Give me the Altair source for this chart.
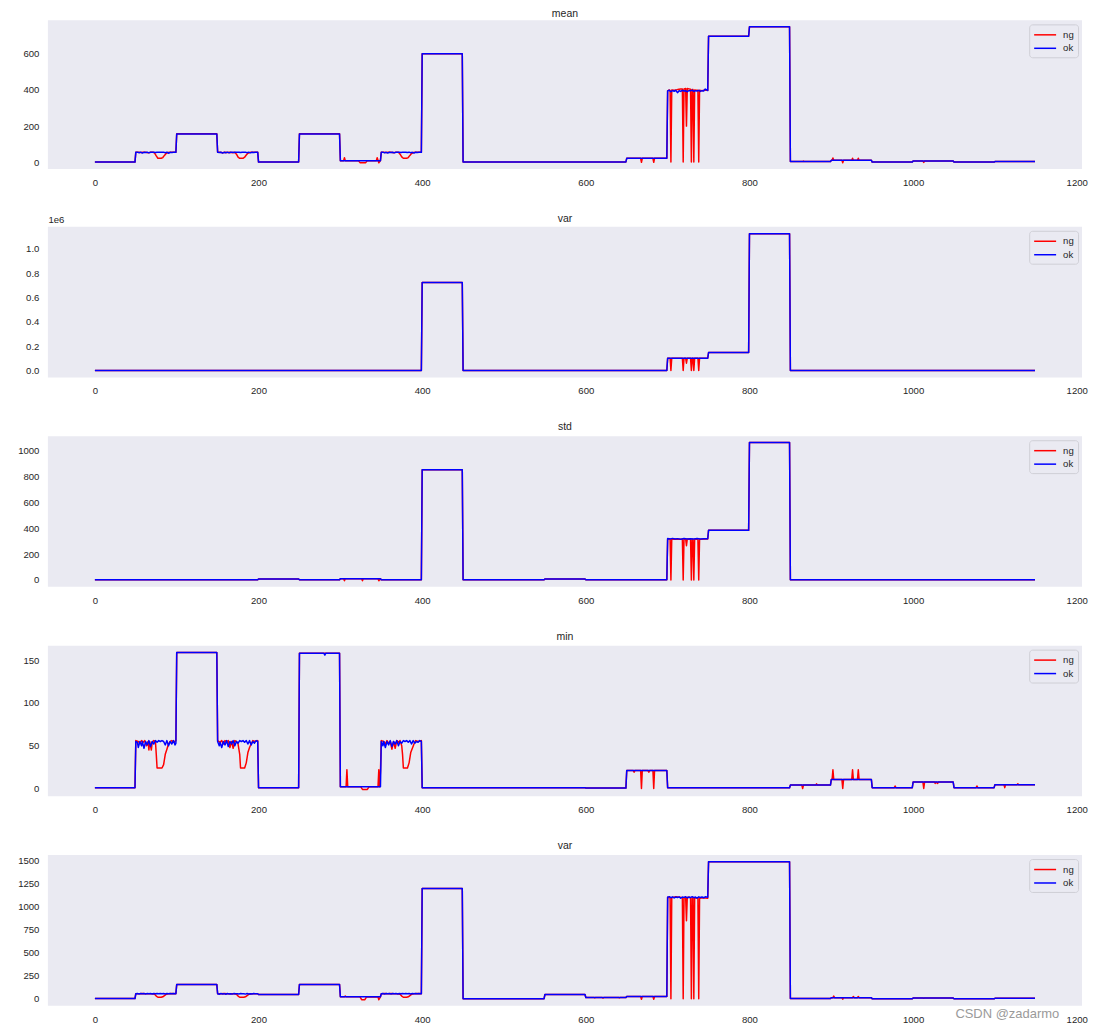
import altair as alt
import pandas as pd

# ---------------- data (vertices: [sample index, value]) -------------
X_TICKS = [0, 200, 400, 600, 800, 1000, 1200]
X_DOMAIN = [-57.45, 1206.45]
SERIES = ["ng", "ok"]
SERIES_COLORS = ["#ff0000", "#0000ff"]
TITLES = ["mean", "var", "std", "min", "var"]

MEAN_OK = [[0,1],[49,1],[50,55],[52,56],[54,53],[56,56],[58,51],[60,55],[62,54],[64,56],[66,52],[68,55],[70,55],[72,56],[74,54],[76,56],[78,55],[80,56],[82,55],[84,56],[86,53],[88,56],[90,50],[92,55],[94,54],[96,56],[99,55],
           [100,157],[149,157],
           [150,55],[152,54],[154,56],[156,51],[158,55],[160,53],[162,56],[164,52],[166,55],[168,56],[170,54],[172,56],[174,55],[176,56],[178,54],[180,56],[182,55],[184,56],[186,53],[188,56],[190,52],[192,55],[194,54],[196,56],[199,55],
           [200,1],[249,1],[250,157],[299,157],[300,9],[349,9],
           [350,55],[352,56],[354,52],[356,55],[358,51],[360,56],[362,54],[364,55],[366,52],[368,56],[370,55],[372,56],[374,54],[376,56],[378,55],[380,56],[382,54],[384,56],[386,53],[388,55],[390,51],[392,56],[394,54],[396,56],[399,55],
           [400,600],[449,600],[450,2],[649,2],[650,22],[699,22],
           [700,395],[702,398],[704,390],[706,397],[708,393],[710,398],[712,385],[714,396],[716,392],[718,398],[720,394],[722,396],[724,390],[726,397],[728,395],[730,399],[732,392],[734,396],[736,394],[738,398],[740,392],[742,396],[744,394],[746,405],[749,397],
           [750,697],[799,697],[800,750],[849,750],[850,4],[899,4],[900,11],[949,11],[950,1],[999,1],[1000,7],[1049,7],[1050,1],[1099,1],[1100,4],[1149,4]]
MEAN_NG = [[0,1],[49,1],[50,56],[53,55],[56,54],[59,56],[62,55],[65,52],[68,55],[71,56],[73,50],[75,35],[77,22],[81,22],[83,26],[85,38],[87,48],[89,54],[92,56],[95,55],[99,56],
           [100,158],[149,158],
           [150,56],[153,55],[156,53],[159,56],[162,54],[165,55],[168,53],[171,55],[173,45],[175,28],[177,22],[181,22],[183,28],[185,40],[187,50],[190,55],[194,56],[199,56],
           [200,1],[249,1],[250,158],[299,158],[300,9],[304,9],[305,25],[306,9],[322,9],[324,-2],[331,-2],[333,9],[344,9],[345,25],[347,-3],[349,9],
           [350,56],[353,55],[356,54],[359,56],[362,55],[365,53],[368,56],[371,55],[373,45],[375,30],[377,22],[381,22],[383,26],[385,38],[387,48],[389,54],[392,56],[396,55],[399,56],
           [400,600],[449,600],[450,2],[649,2],[650,22],[667,22],[668,0],[669,22],[682,22],[683,0],[684,22],[699,22],
           [700,395],[702,400],[703,398],[704,2],[705,400],[708,398],[712,402],[716,405],[718,405],[719,2],[720,406],[722,408],[723,200],[724,408],[726,406],[728,404],[729,2],[730,402],[731,402],[732,2],[733,400],[735,398],[737,398],[738,2],[739,398],[742,396],[746,400],[749,398],
           [750,697],[799,697],[800,750],[849,750],[850,4],[865,4],[866,7],[867,4],[899,4],[900,11],[901,11],[902,24],[903,11],[913,11],[914,-3],[915,11],[925,11],[926,22],[927,11],[932,11],[933,22],[934,11],[949,11],
           [950,1],[999,1],[1000,7],[1012,7],[1013,-1],[1014,7],[1049,7],[1050,1],[1099,1],[1100,4],[1149,4]]

VAR_OK = [[0,0],[399,0],[400,724000],[449,724000],[450,0],[699,0],[700,101000],[749,101000],[750,148000],[799,148000],[800,1125000],[849,1125000],[850,0],[1149,0]]
VAR_NG = [[0,0],[399,0],[400,724000],[449,724000],[450,0],[699,0],[700,101000],[703,101000],[704,0],[705,101000],[718,101000],[719,0],[720,101000],[722,101000],[723,60000],[724,101000],
          [728,101000],[729,0],[730,101000],[731,101000],[732,0],[733,101000],[737,101000],[738,0],[739,101000],[749,101000],
          [750,148000],[799,148000],[800,1125000],[849,1125000],[850,0],[1149,0]]

STD_OK = [[0,2],[199,2],[200,8],[249,8],[250,2],[299,2],[300,10],[349,10],[350,2],[399,2],[400,853],[449,853],[450,2],[549,2],[550,8],[599,8],[600,2],[699,2],
          [700,322],[703,318],[706,322],[709,317],[712,320],[716,316],[720,321],[724,318],[728,320],[732,317],[736,321],[740,318],[744,320],[749,319],
          [750,384],[799,384],[800,1064],[849,1064],[850,2],[1149,2]]
STD_NG = [[0,2],[199,2],[200,8],[249,8],[250,2],[299,2],[300,10],[304,10],[305,-6],[306,10],[326,10],[327,-6],[328,10],[346,10],[347,-6],[349,10],[350,2],[399,2],
          [400,853],[449,853],[450,2],[549,2],[550,8],[599,8],[600,2],[699,2],
          [700,318],[703,318],[704,0],[705,318],[718,316],[719,0],[720,316],[722,318],[723,265],[724,318],[728,316],[729,0],[730,316],[731,316],[732,0],[733,316],[737,316],[738,0],[739,316],[749,318],
          [750,384],[799,384],[800,1064],[849,1064],[850,2],[1149,2]]

MIN_OK = [[0,1],[49,1],[50,55],[52,54],[53,48],[55,55],[57,50],[58,55],[60,47],[62,55],[64,51],[66,56],[68,49],[70,55],[72,52],[74,56],[76,54],[78,56],[80,55],[82,56],[84,55],[86,51],[88,56],[90,50],[92,55],[94,52],[96,56],[98,51],[99,53],
          [100,159],[149,159],
          [150,55],[152,50],[153,54],[155,48],[157,55],[159,51],[161,56],[163,49],[165,55],[167,52],[169,56],[171,50],[173,55],[175,53],[177,56],[179,55],[181,56],[183,54],[185,56],[187,52],[189,56],[191,51],[193,55],[195,53],[197,56],[199,55],
          [200,1],[249,1],[250,158],[280,158],[281,156],[282,158],[299,158],[300,2],[349,2],
          [350,55],[352,50],[353,55],[355,48],[357,55],[359,51],[361,56],[363,49],[365,55],[367,52],[369,56],[371,50],[373,55],[375,53],[377,56],[379,55],[381,56],[383,54],[385,56],[387,52],[389,56],[391,53],[393,55],[395,54],[397,56],[399,55],
          [400,1],[599,1],[600,0.5],[649,0.5],[650,21],[699,21],[700,1],[849,1],[850,4],[899,4],[900,10.5],[949,10.5],[950,1],[999,1],[1000,7.5],[1049,7.5],[1050,1],[1099,1],[1100,4.5],[1149,4.5]]
MIN_NG = [[0,1],[49,1],[50,56],[53,55],[55,53],[57,56],[59,54],[61,56],[63,50],[65,55],[66,45],[67,55],[69,45],[70,54],[72,56],[74,55],[75,40],[76,24],[82,24],[84,28],[86,40],[88,46],[90,52],[92,55],[94,56],[96,54],[99,56],
          [100,159],[149,159],
          [150,56],[153,54],[155,56],[157,52],[159,56],[161,54],[163,56],[165,48],[167,55],[169,47],[171,56],[173,55],[175,52],[177,40],[178,24],[183,24],[185,30],[187,42],[189,48],[191,52],[193,56],[196,55],[199,56],
          [200,1],[249,1],[250,158],[299,158],[300,2],[307,2],[308,22],[309,2],[325,2],[327,-1],[333,-1],[335,2],[346,2],[347,22],[348,2],[349,20],
          [350,56],[353,55],[355,52],[357,56],[359,53],[361,55],[363,46],[365,55],[367,47],[369,56],[371,54],[373,56],[375,50],[376,40],[377,24],[382,24],[384,30],[386,42],[388,47],[390,52],[392,56],[395,55],[399,56],
          [400,1],[599,1],[600,0.5],[649,0.5],[650,21],[658,21],[659,19],[660,21],[667,21],[668,0],[669,21],[676,21],[677,19],[678,21],[682,21],[683,0],[684,21],[699,21],
          [700,1],[849,1],[850,4],[864,4],[865,0],[866,4],[881,4],[882,5.5],[883,4],[899,4],
          [900,10.5],[901,10.5],[902,22],[903,10.5],[913,10.5],[914,0],[915,10.5],[925,10.5],[926,22],[927,10.5],[932,10.5],[933,22],[934,10.5],[949,10.5],
          [950,1],[977,1],[978,3],[979,1],[999,1],[1000,7.5],[1012,7.5],[1013,0],[1014,7.5],[1026,7.5],[1027,6],[1028,7.5],[1030,6],[1031,7.5],[1049,7.5],
          [1050,1],[1077,1],[1078,3],[1079,1],[1099,1],[1100,4.5],[1111,4.5],[1112,1],[1113,4.5],[1127,4.5],[1128,5.5],[1129,4.5],[1149,4.5]]

VAR2_OK = [[0,3],[49,3],[50,55],[52,57],[54,52],[56,58],[58,54],[60,57],[62,53],[64,58],[66,55],[68,57],[70,52],[72,58],[74,55],[76,57],[78,54],[80,58],[82,55],[84,57],[86,53],[88,58],[90,55],[92,57],[94,54],[96,58],[99,56],
           [100,156],[149,156],
           [150,55],[152,50],[154,57],[156,52],[158,56],[160,50],[162,57],[164,53],[166,56],[168,51],[170,57],[172,54],[174,56],[176,52],[178,57],[180,54],[182,56],[184,51],[186,57],[188,53],[190,56],[192,52],[194,57],[196,54],[199,55],
           [200,47],[249,47],[250,156],[299,156],[300,22],[349,22],
           [350,55],[352,57],[354,52],[356,58],[358,54],[360,57],[362,53],[364,58],[366,55],[368,57],[370,52],[372,58],[374,55],[376,57],[378,54],[380,58],[382,55],[384,57],[386,53],[388,58],[390,55],[392,57],[394,54],[396,58],[399,56],
           [400,1201],[449,1201],[450,1],[549,1],[550,47],[599,47],[600,14],[649,14],[650,25],[699,25],
           [700,1105],[702,1112],[704,1100],[706,1110],[708,1098],[710,1108],[712,1102],[714,1110],[716,1095],[718,1108],[720,1104],[722,1110],[724,1098],[726,1108],[728,1102],[730,1112],[732,1100],[734,1108],[736,1096],[738,1110],[740,1103],[742,1108],[744,1100],[746,1110],[749,1106],
           [750,1492],[849,1492],[850,3],[899,3],[900,12],[949,12],[950,0],[999,0],[1000,8],[1049,8],[1050,0],[1099,0],[1100,5],[1149,5]]
VAR2_NG = [[0,3],[49,3],[50,56],[54,55],[58,57],[62,55],[66,56],[70,54],[73,50],[75,30],[77,17],[81,17],[83,22],[85,35],[87,48],[90,56],[94,57],[99,56],
           [100,157],[149,157],
           [150,56],[154,55],[158,57],[162,55],[166,56],[170,55],[173,50],[175,30],[177,17],[182,17],[184,22],[186,35],[188,48],[191,56],[195,56],[199,55],
           [200,47],[249,47],[250,157],[299,157],[300,22],[305,22],[306,30],[307,22],[324,22],[326,-10],[330,-10],[332,20],[346,22],[347,-10],[349,22],
           [350,56],[354,57],[358,55],[362,57],[366,55],[370,56],[373,50],[375,30],[377,17],[381,17],[383,22],[385,35],[387,48],[390,56],[394,57],[399,56],
           [400,1201],[449,1201],[450,1],[549,1],[550,47],[599,47],[600,14],[610,14],[611,10],[612,14],[620,14],[621,8],[622,14],[640,14],[641,10],[642,14],[649,14],
           [650,25],[667,25],[668,-5],[669,25],[682,25],[683,-5],[684,25],[699,25],
           [700,1105],[703,1100],[704,0],[705,1100],[710,1110],[715,1105],[718,1100],[719,0],[720,1100],[722,1105],[723,850],[724,1105],[728,1100],[729,0],[730,1095],[731,1100],[732,0],[733,1100],[735,1098],[737,1100],[738,0],[739,1095],[744,1100],[749,1095],
           [750,1492],[849,1492],[850,3],[899,3],[900,12],[902,12],[903,30],[904,12],[913,12],[914,-5],[915,12],[926,12],[927,25],[928,12],[932,12],[933,25],[934,12],[949,12],
           [950,0],[999,0],[1000,8],[1012,8],[1013,5],[1014,8],[1049,8],[1050,0],[1099,0],[1100,5],[1149,5]]

PANEL_DATA = [(MEAN_NG, MEAN_OK), (VAR_NG, VAR_OK), (STD_NG, STD_OK), (MIN_NG, MIN_OK), (VAR2_NG, VAR2_OK)]
Y_DOMAINS = [[-37, 785], [-56250, 1181250], [-53, 1113], [-9, 167], [-74.5, 1564.5]]
Y_TICKS = [[0, 200, 400, 600],
           [0, 200000, 400000, 600000, 800000, 1000000],
           [0, 200, 400, 600, 800, 1000],
           [0, 50, 100, 150],
           [0, 250, 500, 750, 1000, 1250, 1500]]
WATERMARK = ["CSDN @zadarmo"]

# ---------------- style ----------------
FONT = "Liberation Sans"
TXT = "#262626"
BG = "#EAEAF2"
PANEL_W = 1037
PANEL_HEIGHTS = [149, 151, 151, 151, 151]
TITLE_OFFSETS = [0.5, -10, 3.5, 3.5, 3.5]


def make_df(ng, ok):
    rows = []
    for name, pts in (("ng", ng), ("ok", ok)):
        for i, (x, y) in enumerate(pts):
            rows.append({"x": x, "y": y, "series": name, "order": i})
    return pd.DataFrame(rows)


def panel(i):
    ng, ok = PANEL_DATA[i]
    df = make_df(ng, ok)
    x = alt.X("x:Q", scale=alt.Scale(domain=X_DOMAIN, nice=False, zero=False),
              axis=alt.Axis(values=X_TICKS, title=None, format="d", labelFlush=False, labelPadding=8.6))
    yaxis = dict(values=Y_TICKS[i], title=None, labelPadding=9, format="d")
    if i == 1:
        yaxis.update(labelExpr="format(datum.value / 1000000, '.1f')", title="1e6",
                     titleAngle=0, titleAlign="left", titleBaseline="alphabetic",
                     titleX=0, titleY=-4, titleFont=FONT, titleFontSize=9.6,
                     titleFontWeight="normal", titleColor=TXT)
    y = alt.Y("y:Q", scale=alt.Scale(domain=Y_DOMAINS[i], nice=False, zero=False),
              axis=alt.Axis(**yaxis))
    color = alt.Color("series:N", scale=alt.Scale(domain=SERIES, range=SERIES_COLORS),
                      legend=alt.Legend(title=None, orient="top-right", offset=4,
                                        symbolType="M-1,0H3", symbolSize=121,
                                        symbolStrokeWidth=1.5, labelOffset=17,
                                        labelFont=FONT, labelFontSize=9.6, labelColor=TXT,
                                        fillColor=BG, strokeColor="#cfcfd6", cornerRadius=3,
                                        padding=4, rowPadding=1.5))
    layers = []
    for s in SERIES:
        layers.append(
            alt.Chart(df).transform_filter(alt.datum.series == s)
            .mark_line(strokeWidth=1.5, strokeJoin="round", clip=True)
            .encode(x=x, y=y, color=color, order="order:Q")
        )
    if i == 4:
        layers.append(
            alt.Chart(pd.DataFrame({"t": WATERMARK})).mark_text(
                align="left", baseline="alphabetic", font=FONT, fontSize=13, color="#9a9a9a")
            .encode(x=alt.value(910), y=alt.value(163), text="t:N")
        )
    return alt.layer(*layers).properties(
        width=PANEL_W, height=PANEL_HEIGHTS[i],
        title=alt.TitleParams(text=TITLES[i], font=FONT, fontSize=10.5, fontWeight="normal",
                              color=TXT, anchor="middle", frame="group", offset=TITLE_OFFSETS[i]),
    )


chart = alt.concat(*[panel(i) for i in range(5)], columns=1, spacing=26).resolve_scale(
    x="independent", y="independent", color="independent"
).resolve_legend(color="independent").properties(
    padding={"left": 9, "top": 0, "right": 5, "bottom": 0}
).configure_axis(
    labelFont=FONT, labelFontSize=9.6, labelColor=TXT, tickSize=0, domain=False, grid=False
).configure_view(fill=BG, strokeWidth=0)

chart.save("out.html", embed_options={"renderer": "svg", "actions": False})
